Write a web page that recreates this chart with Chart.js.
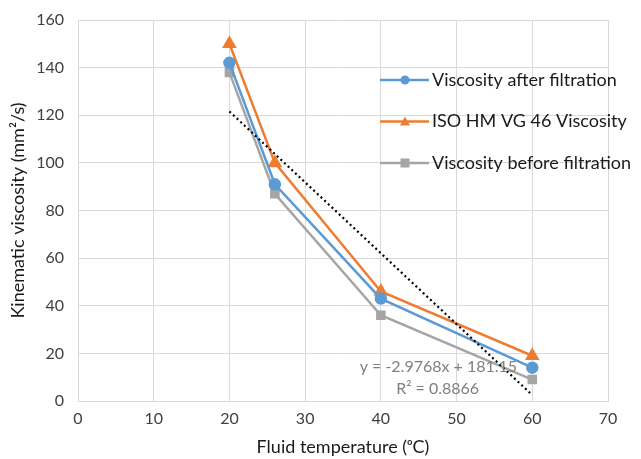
<!DOCTYPE html>
<html>
<head>
<meta charset="utf-8">
<script src="https://cdn.jsdelivr.net/npm/chart.js@4"></script>
<style>
  html, body { margin: 0; padding: 0; background: #fff; }
  #wrap { width: 641px; height: 459px; }
</style>
</head>
<body>
<div id="wrap"><canvas id="chart-viscosity"></canvas></div>
<script>
// temperatures (deg C)
const temps = [20, 26, 40, 60];
const afterFiltration = [142, 91, 43, 14];
const isoVG46 = [150, 100, 46, 19];
const beforeFiltration = [138, 87, 36, 9];
// linear trendline end points
const trendX = [20, 60];
const trendY = [121.6, 2.5];
const trendLabel = ['y = -2.9768x + 181.15', 'R\u00b2 = 0.8866'];

const legendItems = [
    { label: 'Viscosity after filtration', color: '#5b9bd5', marker: 'circle' },
    { label: 'ISO HM VG 46 Viscosity', color: '#ed7d31', marker: 'triangle' },
    { label: 'Viscosity before filtration', color: '#a5a5a5', marker: 'rect' }
];

function pts(xs, ys) {
    const out = [];
    for (let i = 0; i < xs.length; ++i) out.push({ x: xs[i], y: ys[i] });
    return out;
}

const FONT = 'Lato, "Open Sans", sans-serif';

const overlay = {
    id: 'overlay',
    afterDraw(chart) {
        const ctx = chart.ctx;
        const xs = chart.scales.x, ys = chart.scales.y;
        // trendline label
        ctx.save();
        ctx.font = '16px ' + FONT;
        ctx.fillStyle = '#7f7f7f';
        ctx.textAlign = 'center';
        ctx.textBaseline = 'middle';
        ctx.fillText(trendLabel[0], xs.getPixelForValue(47.6), ys.getPixelForValue(14.2));
        ctx.fillText(trendLabel[1], xs.getPixelForValue(47.5), ys.getPixelForValue(5.0));
        ctx.restore();

        // legend inside plot area
        ctx.save();
        let ly = 80;
        const lx = 380;
        for (let i = 0; i < legendItems.length; ++i) {
            const it = legendItems[i];
            ctx.strokeStyle = it.color;
            ctx.lineWidth = 2.5;
            ctx.beginPath();
            ctx.moveTo(lx, ly);
            ctx.lineTo(lx + 49, ly);
            ctx.stroke();
            ctx.fillStyle = it.color;
            const cx = lx + 25;
            ctx.beginPath();
            if (it.marker === 'circle') {
                ctx.arc(cx, ly, 4.5, 0, Math.PI * 2);
            } else if (it.marker === 'triangle') {
                ctx.moveTo(cx, ly - 5);
                ctx.lineTo(cx + 5, ly + 4);
                ctx.lineTo(cx - 5, ly + 4);
                ctx.closePath();
            } else {
                ctx.rect(cx - 4.5, ly - 4.5, 9, 9);
            }
            ctx.fill();
            ctx.fillStyle = '#1a1a1a';
            ctx.font = '18px ' + FONT;
            ctx.textAlign = 'left';
            ctx.textBaseline = 'middle';
            ctx.fillText(it.label, lx + 52, ly);
            ly += 41.5;
        }
        ctx.restore();
    }
};

new Chart(document.getElementById('chart-viscosity').getContext('2d'), {
    type: 'scatter',
    data: {
        datasets: [
            {
                label: 'Viscosity after filtration',
                data: pts(temps, afterFiltration),
                showLine: true,
                borderColor: '#5b9bd5',
                backgroundColor: '#5b9bd5',
                borderWidth: 2.5,
                pointStyle: 'circle',
                pointRadius: 5,
                order: 2
            },
            {
                label: 'ISO HM VG 46 Viscosity',
                data: pts(temps, isoVG46),
                showLine: true,
                borderColor: '#ed7d31',
                backgroundColor: '#ed7d31',
                borderWidth: 2.5,
                pointStyle: 'triangle',
                pointRadius: 6,
                order: 3
            },
            {
                label: 'Viscosity before filtration',
                data: pts(temps, beforeFiltration),
                showLine: true,
                borderColor: '#a5a5a5',
                backgroundColor: '#a5a5a5',
                borderWidth: 2.5,
                pointStyle: 'rect',
                pointRadius: 5,
                order: 4
            },
            {
                label: 'Trend',
                data: pts(trendX, trendY),
                showLine: true,
                borderColor: '#000',
                borderWidth: 2.2,
                borderDash: [2, 3],
                pointRadius: 0,
                order: 1
            }
        ]
    },
    options: {
        responsive: true,
        maintainAspectRatio: false,
        animation: false,
        layout: { padding: { left: 0, top: 20, right: 33, bottom: 0 } },
        plugins: {
            legend: { display: false },
            tooltip: { enabled: false }
        },
        scales: {
            x: {
                type: 'linear',
                min: 0, max: 70,
                ticks: { stepSize: 10, color: '#404040', font: { family: FONT, size: 16 }, padding: 8 },
                grid: { color: '#d9d9d9', drawTicks: false },
                border: { color: '#d9d9d9' },
                title: { display: true, text: 'Fluid temperature (\u1d52C)', color: '#1a1a1a',
                         font: { family: FONT, size: 18 }, padding: { top: 0, bottom: 1 } },
                afterFit(scale) {
                    scale.height = 58;
                    scale.paddingLeft = 0;
                    scale.paddingRight = 0;
                }
            },
            y: {
                min: 0, max: 160,
                ticks: { stepSize: 20, color: '#404040', font: { family: FONT, size: 16 }, padding: 14 },
                grid: { color: '#d9d9d9', drawTicks: false },
                border: { color: '#d9d9d9' },
                title: { display: true, text: 'Kinematic viscosity (mm\u00b2/s)', color: '#1a1a1a',
                         font: { family: FONT, size: 18 }, padding: { top: 7, bottom: 0 } },
                afterFit(scale) {
                    scale.width = 78;
                    scale.paddingTop = 0;
                    scale.paddingBottom = 0;
                }
            }
        }
    },
    plugins: [overlay]
});
</script>
</body>
</html>
